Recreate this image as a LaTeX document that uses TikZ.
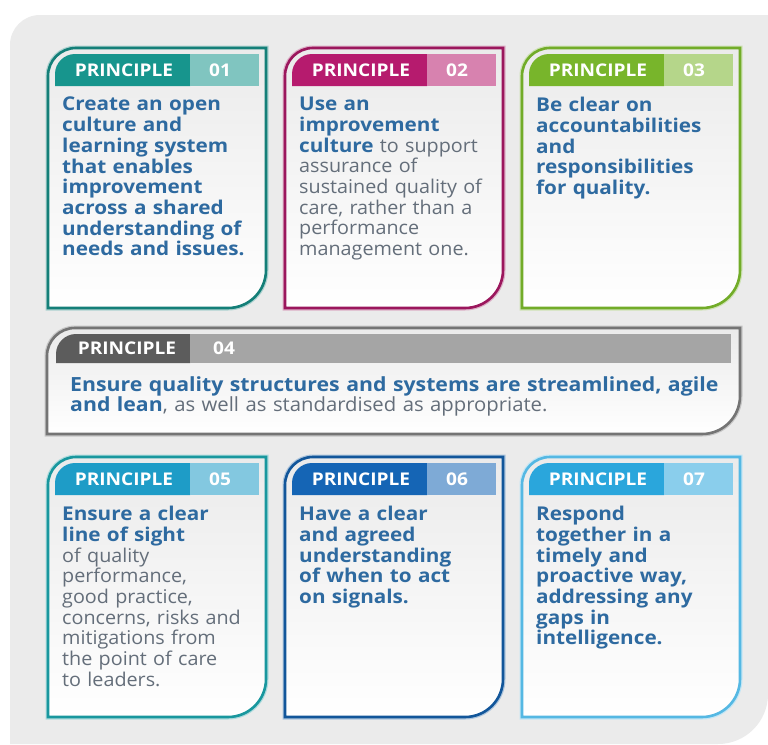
\documentclass[tikz,border=0pt]{standalone}
\usepackage{fontspec}
\setmainfont{Open Sans}[FakeStretch=1.04,BoldFeatures={FakeStretch=1.09}]
\usetikzlibrary{positioning}
\definecolor{panel}{RGB}{235,235,235}
\definecolor{ink}{RGB}{46,106,160}
\definecolor{prose}{RGB}{100,110,122}
\definecolor{teal}{RGB}{23,149,141}
\definecolor{berry}{RGB}{182,27,110}
\definecolor{lime}{RGB}{120,181,43}
\definecolor{slate}{RGB}{92,92,92}
\definecolor{lagoon}{RGB}{30,156,199}
\definecolor{royal}{RGB}{21,101,181}
\definecolor{sky}{RGB}{42,166,220}
\newcommand{\comma}{,}
\newcommand{\kw}[1]{{\bfseries\color{ink}#1}}
% outline with only the top-left (r=28) and bottom-right (r=38) corners rounded
\newcommand{\cardpath}[4]{(#1,#4) -- (#1,#2+28) .. controls (#1,#2+12.5) and (#1+12.5,#2) .. (#1+28,#2)
  -- (#3,#2) -- (#3,#4-38) .. controls (#3,#4-17) and (#3-17,#4) .. (#3-38,#4) -- cycle}
% header strip, rounded at the top-left to follow the outline
\newcommand{\tabpath}[4]{(#1,#4) -- (#1,#2+20) .. controls (#1,#2+9) and (#1+9,#2) .. (#1+20,#2) -- (#3,#2) -- (#3,#4) -- cycle}
\tikzset{
  rim/.style={line width=5pt},
  cardbox/.style={line width=2.6pt,top color=black!8,middle color=white,bottom color=white},
  tag/.style={text=white,font=\bfseries\fontsize{17.5}{17.5}\selectfont,inner sep=0pt},
  body/.style={anchor=north west,inner sep=0pt,align=left,text=prose,font=\fontsize{19}{20.7}\selectfont}
}

\begin{document}
\begin{tikzpicture}[x=1pt,y=-1pt]
  \useasboundingbox (0,0) rectangle (768,744);
  \fill[white] (0,0) rectangle (768,744);
  \fill[panel] (10,744) -- (10,45) .. controls (10,28.4) and (23.4,15) .. (40,15) -- (768,15)
    -- (768,694) .. controls (768,721.6) and (745.6,744) .. (718,744) -- cycle;

    \foreach \v/\c/\e/\t [count=\i from 0] in {
      01/teal/teal!85!black/{\kw{Create an open\\culture and\\learning system\\that enables\\improvement\\across a shared\\understanding of\\needs and issues.}},
      02/berry/berry!85!black/{\kw{Use an\\improvement\\culture} to support\\assurance of\\sustained quality of\\care\comma{} rather than a\\performance\\management one.},
      03/lime/lime!95!black/{\kw{Be clear on\\accountabilities\\and\\responsibilities\\for quality.}},
      05/lagoon/teal!70!lagoon/{\kw{Ensure a clear\\line of sight}\\of quality\\performance\comma\\good practice\comma\\concerns\comma{} risks and\\mitigations from\\the point of care\\to leaders.},
      06/royal/royal!85!black/{\kw{Have a clear\\and agreed\\understanding\\of when to act\\on signals.}},
      07/sky/sky!80!white/{\kw{Respond\\together in a\\timely and\\proactive way\comma\\addressing any\\gaps in\\intelligence.}}}
    {
      \pgfmathsetmacro{\x}{48+mod(\i,3)*237}
      \pgfmathsetmacro{\y}{48+floor(\i/3)*409}
      \draw[rim,\e!35] \cardpath{\x}{\y}{\x+218}{\y+260};
      \draw[cardbox,draw=\e] \cardpath{\x}{\y}{\x+218}{\y+260};
      \fill[\c] \tabpath{\x+7}{\y+6}{\x+142}{\y+38};
      \fill[\c!55] (\x+142,\y+6) rectangle (\x+211,\y+38);
      \node[tag] (p\i) at (\x+76,\y+22) {PRINCIPLE};
      \node[tag] (n\i) at (\x+172,\y+22) {\v};
      \node[body,text width=205] (t\i) at (\x+14,\y+49) {\t};
    }

  % the wide card across the middle
  \draw[rim,slate!35] \cardpath{47}{328}{740}{434};
  \draw[cardbox,draw=slate!85!white] \cardpath{47}{328}{740}{434};
  \fill[slate] \tabpath{56}{334}{190}{363};
  \fill[slate!55] (190,334) rectangle (731,363);
  \node[tag] (p4) at (127,348) {PRINCIPLE};
  \node[tag] (n4) at (224,348) {04};
  \node[body,text width=680,font=\fontsize{19.5}{20.5}\selectfont] (t4) at (70,376)
    {\kw{Ensure quality structures and systems are streamlined\comma{} agile\\and lean}, as well as standardised as appropriate.};
\end{tikzpicture}
\end{document}
